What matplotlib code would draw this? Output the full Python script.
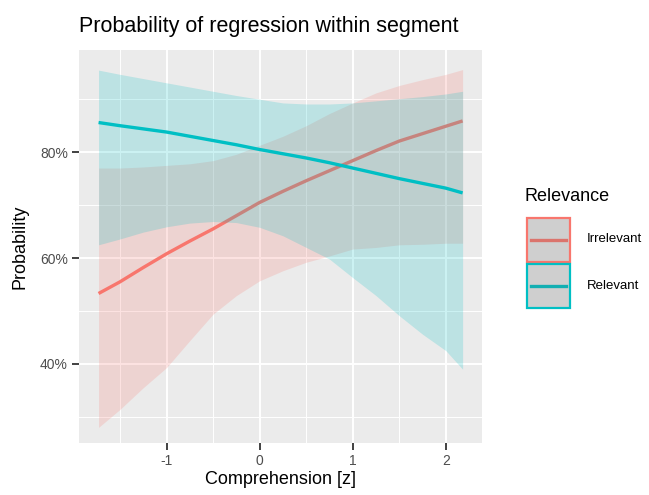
import matplotlib
matplotlib.use("Agg")
import matplotlib.pyplot as plt
from matplotlib.patches import Rectangle
from matplotlib.lines import Line2D
from matplotlib.ticker import FuncFormatter

plt.rcParams['font.family'] = ['Liberation Sans', 'DejaVu Sans']

# values (probability in %)
comprehension = [-1.73, -1.5, -1.25, -1.0, -0.75, -0.5, -0.25, 0.0, 0.25, 0.5,
                 0.75, 1.0, 1.25, 1.5, 1.75, 2.0, 2.18]

irrelevant_fit = [53.3, 55.5, 58.2, 60.8, 63.2, 65.5, 68.0, 70.5, 72.6, 74.6,
                  76.5, 78.4, 80.3, 82.1, 83.5, 84.9, 85.9]
irrelevant_low = [28.0, 31.4, 35.5, 39.3, 44.4, 49.4, 52.9, 55.7, 57.6, 59.2,
                  60.4, 61.7, 62.0, 62.5, 62.6, 62.8, 62.8]
irrelevant_high = [77.0, 77.0, 77.2, 77.5, 77.8, 78.4, 79.6, 81.3, 83.0, 85.0,
                   87.3, 89.3, 91.2, 92.6, 93.7, 94.7, 95.6]

relevant_fit = [85.6, 85.0, 84.4, 83.8, 83.0, 82.2, 81.4, 80.5, 79.7, 78.9,
                78.0, 77.0, 76.0, 75.0, 74.1, 73.2, 72.3]
relevant_low = [62.5, 63.6, 64.9, 65.9, 66.6, 66.9, 66.7, 65.8, 64.2, 62.0,
                59.8, 56.3, 52.9, 49.1, 45.6, 42.5, 39.0]
relevant_high = [95.5, 94.7, 93.9, 93.1, 92.3, 91.5, 90.7, 90.0, 89.3, 89.1,
                 89.1, 89.3, 89.7, 90.1, 90.5, 91.0, 91.5]

groups = ["Irrelevant", "Relevant"]
colors = ["#F8766D", "#00BFC4"]
key_lines = ["#DB746D", "#12AFB2"]

W, H = 649, 495
fig = plt.figure(figsize=(W / 100, H / 100), dpi=100)
ax = fig.add_axes([79 / W, 1 - 443.3 / H, (481.7 - 79) / W, (443.3 - 50) / H])
ax.set_facecolor("#EBEBEB")
for s in ax.spines.values():
    s.set_visible(False)

# ribbons and lines (red first, cyan on top)
ax.fill_between(comprehension, irrelevant_low, irrelevant_high, color=colors[0], alpha=0.2, lw=0, zorder=2)
ax.plot(comprehension, irrelevant_fit, color=colors[0], lw=2.4, zorder=3, solid_capstyle='butt')
ax.fill_between(comprehension, relevant_low, relevant_high, color=colors[1], alpha=0.2, lw=0, zorder=4)
ax.plot(comprehension, relevant_fit, color=colors[1], lw=2.4, zorder=5, solid_capstyle='butt')

ax.set_xlim(-1.94, 2.385)
ax.set_ylim(25.0, 99.3)
ax.set_xticks([-1, 0, 1, 2])
ax.set_xticks([-1.5, -0.5, 0.5, 1.5], minor=True)
ax.set_yticks([40, 60, 80])
ax.set_yticks([30, 50, 70, 90], minor=True)
ax.yaxis.set_major_formatter(FuncFormatter(lambda v, p: f"{v:.0f}%"))
ax.xaxis.set_major_formatter(FuncFormatter(lambda v, p: f"{v:.0f}"))

ax.grid(True, which='major', color='white', lw=1.4, zorder=1)
ax.grid(True, which='minor', color='white', lw=0.7, zorder=1)
ax.set_axisbelow(True)
ax.tick_params(which='major', length=5, width=1.3, color='#333333',
               labelcolor='#4D4D4D', labelsize=10, pad=3)
ax.tick_params(which='minor', length=0)

ax.set_title("Probability of regression within segment", loc='left', fontsize=15.5, pad=13)
ax.set_xlabel("Comprehension [z]", fontsize=13, labelpad=2)
ax.set_ylabel("Probability", fontsize=13, labelpad=8)

# legend drawn by hand
fig.text(525 / W, 1 - 201 / H, "Relevance", fontsize=13, va='baseline', ha='left')
for i, (g, c, kc) in enumerate(zip(groups, colors, key_lines)):
    top = 217.5 + i * 46.5
    fig.patches.append(Rectangle((527 / W, 1 - (top + 44) / H), 43 / W, 44 / H,
                                 transform=fig.transFigure, facecolor='#CFCFCF',
                                 edgecolor=c, lw=1.6))
    yc = 1 - (top + 22) / H
    fig.lines.append(Line2D([531 / W, 566 / W], [yc, yc], transform=fig.transFigure,
                            color=kc, lw=2.4))
    fig.text(586.7 / W, yc, g, fontsize=9.5, va='center', ha='left')

fig.savefig("out.png", dpi=100)
